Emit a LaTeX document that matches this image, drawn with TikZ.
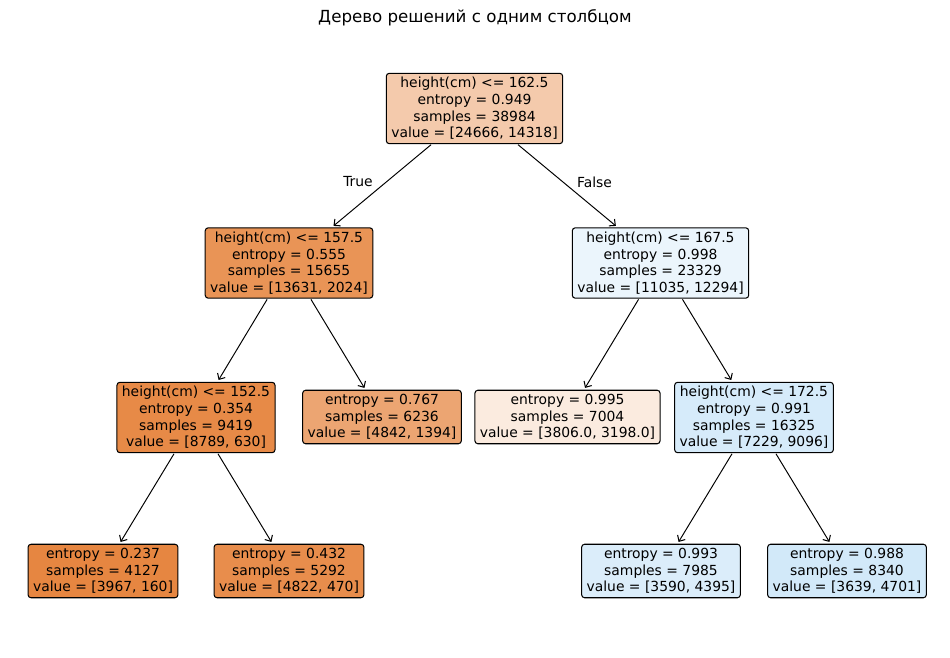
\documentclass[tikz,border=0pt]{standalone}
\usepackage{fontspec}
\setmainfont{DejaVu Sans}
\usetikzlibrary{arrows.meta}
\definecolor{c0}{RGB}{244,202,172}
\definecolor{c1}{RGB}{233,148,86}
\definecolor{c2}{RGB}{235,245,252}
\definecolor{c3}{RGB}{231,138,71}
\definecolor{c4}{RGB}{236,165,114}
\definecolor{c5}{RGB}{251,235,223}
\definecolor{c6}{RGB}{214,235,250}
\definecolor{c7}{RGB}{230,134,65}
\definecolor{c8}{RGB}{232,141,76}
\definecolor{c9}{RGB}{219,237,250}
\definecolor{c10}{RGB}{210,233,249}
\tikzset{
  treebox/.style={draw=black, line width=0.75pt, rounded corners=2.2pt, align=center,
    font=\fontsize{10}{12}\selectfont, inner xsep=3.6pt, inner ysep=2.9pt},
  edge/.style={line width=0.7pt, -{Straight Barb[length=3.4pt,width=6.4pt,line width=0.75pt]}, shorten >=1.5pt, shorten <=0.5pt},
  lbl/.style={font=\fontsize{10}{12}\selectfont, inner sep=0pt}
}
\begin{document}
\begin{tikzpicture}[x=0.72pt,y=-0.72pt]
\useasboundingbox (0,0) rectangle (950,658);
\node[font=\fontsize{12}{14}\selectfont] (title) at (475,18) {Дерево решений с одним столбцом};
\node[treebox, fill=c0] (n0) at (474.5,108.5) {height(cm) <= 162.5\\entropy = 0.949\\samples = 38984\\value = [24666, 14318]};
\node[treebox, fill=c1] (n1) at (289,263) {height(cm) <= 157.5\\entropy = 0.555\\samples = 15655\\value = [13631, 2024]};
\node[treebox, fill=c2] (n2) at (660.5,263) {height(cm) <= 167.5\\entropy = 0.998\\samples = 23329\\value = [11035, 12294]};
\node[treebox, fill=c3] (n3) at (196,417.5) {height(cm) <= 152.5\\entropy = 0.354\\samples = 9419\\value = [8789, 630]};
\node[treebox, fill=c4] (n4) at (382,417) {entropy = 0.767\\samples = 6236\\value = [4842, 1394]};
\node[treebox, fill=c5] (n5) at (567.5,417) {entropy = 0.995\\samples = 7004\\value = [3806.0, 3198.0]};
\node[treebox, fill=c6] (n6) at (754,417.5) {height(cm) <= 172.5\\entropy = 0.991\\samples = 16325\\value = [7229, 9096]};
\node[treebox, fill=c7] (n7) at (103,571) {entropy = 0.237\\samples = 4127\\value = [3967, 160]};
\node[treebox, fill=c8] (n8) at (289,571) {entropy = 0.432\\samples = 5292\\value = [4822, 470]};
\node[treebox, fill=c9] (n9) at (661,571) {entropy = 0.993\\samples = 7985\\value = [3590, 4395]};
\node[treebox, fill=c10] (n10) at (847,571) {entropy = 0.988\\samples = 8340\\value = [3639, 4701]};
\draw[edge] (n0) -- (n1);
\draw[edge] (n0) -- (n2);
\draw[edge] (n1) -- (n3);
\draw[edge] (n1) -- (n4);
\draw[edge] (n2) -- (n5);
\draw[edge] (n2) -- (n6);
\draw[edge] (n3) -- (n7);
\draw[edge] (n3) -- (n8);
\draw[edge] (n6) -- (n9);
\draw[edge] (n6) -- (n10);
\node[lbl] (ltrue) at (358,182) {True};
\node[lbl] (lfalse) at (594.5,182) {False};
\end{tikzpicture}
\end{document}
